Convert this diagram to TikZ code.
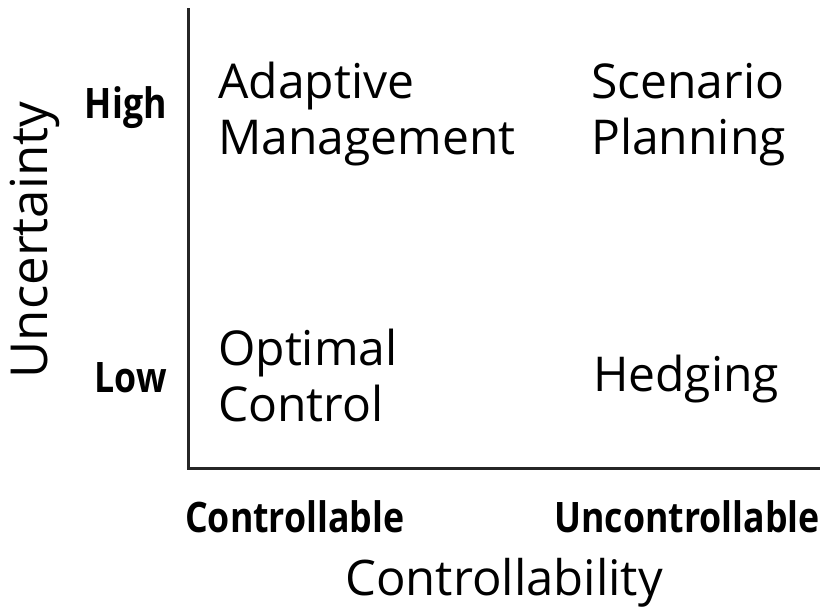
\documentclass[tikz,border=0pt]{standalone}
\usepackage{fontspec}
\setmainfont{Open Sans}
\newfontfamily\boldcond[FakeStretch=0.85]{Open Sans Bold}
\begin{document}
\begin{tikzpicture}[x=1pt,y=-1pt,
  quad/.style={anchor=base west,inner sep=0pt,font=\fontsize{48}{56}\selectfont,align=left},
  lvl/.style={inner sep=0pt,font=\boldcond\fontsize{42}{44}\selectfont},
  axtitle/.style={inner sep=0pt,font=\fontsize{49}{52}\selectfont},
  axis/.style={line width=3pt,draw=black!85}]
\useasboundingbox (0,0) rectangle (827,611);
\coordinate (top) at (188,8);
\coordinate (origin) at (188,468);
\coordinate (right) at (820,468);
\draw[axis] (top) -- (origin) -- (right);
\node[quad] (am) at (218,154) {Adaptive\\Management};
\node[quad] (sp) at (591,154) {Scenario\\Planning};
\node[quad] (oc) at (218,421) {Optimal\\Control};
\node[quad] (hd) at (593,391) {Hedging};
\node[lvl,anchor=base east] (high) at (167,118) {High};
\node[lvl,anchor=base east] (low) at (167,392) {Low};
\node[lvl,anchor=base west] (ctl) at (185,532) {Controllable};
\node[lvl,anchor=base east] (unc) at (820,532) {Uncontrollable};
\node[axtitle,anchor=base] (xt) at (504,595) {Controllability};
\node[axtitle,anchor=base,rotate=90,font=\fontsize{51}{52}\selectfont] (yt) at (47,240) {Uncertainty};
\end{tikzpicture}
\end{document}
